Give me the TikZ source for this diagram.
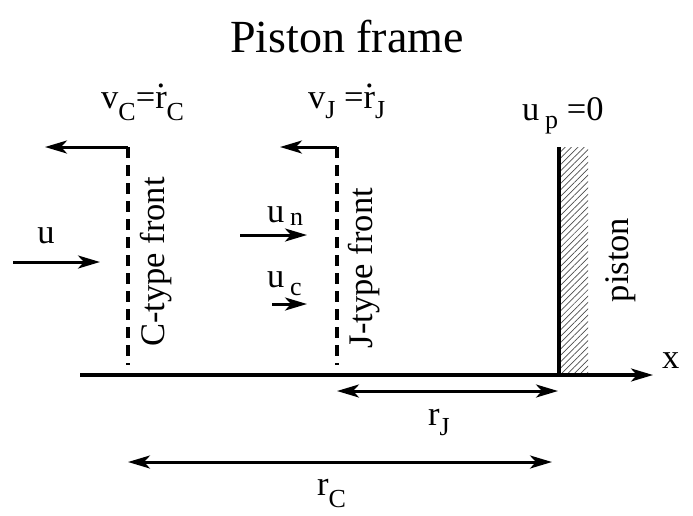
\documentclass[tikz,border=0pt]{standalone}
\usepackage{fontspec}
\setmainfont{Liberation Serif}
\usetikzlibrary{arrows.meta,patterns.meta}
\newcommand\sbs[2][6pt]{\raisebox{-#1}{\fontsize{26}{26}\selectfont #2}}
\newcommand\rdot{\ooalign{r\cr\hidewidth\smash{\raisebox{0.6em}{.}}\hidewidth\cr}}
\begin{document}
\begin{tikzpicture}[x=1pt,y=-1pt,
  lbl/.style={inner sep=0pt,font=\fontsize{34.5}{40}\selectfont},
  arr/.style={line width=3pt,-{Stealth[length=22pt,width=13pt,inset=6pt]}},
  darr/.style={line width=3pt,{Stealth[length=22pt,width=13pt,inset=6pt]}-{Stealth[length=22pt,width=13pt,inset=6pt]}},
  front/.style={line width=3.2pt,dash pattern=on 11pt off 7pt}]
\useasboundingbox (0,0) rectangle (693,515);
% title
\node[lbl,font=\fontsize{46}{50}\selectfont,anchor=base] (title) at (347,52) {Piston frame};
% coordinates
\coordinate (ax0) at (80,375);
\coordinate (ax1) at (653,375);
\coordinate (ptop) at (559,147);
\coordinate (pbot) at (559,375);
\coordinate (ctop) at (128,147);
\coordinate (cbot) at (128,365);
\coordinate (cv) at (45,147);
\coordinate (jtop) at (337,147);
\coordinate (jbot) at (337,365);
\coordinate (jv) at (280,147);
\coordinate (u0) at (13,262);
\coordinate (u1) at (100,262);
\coordinate (un0) at (240,235);
\coordinate (un1) at (307,235);
\coordinate (uc0) at (272,304);
\coordinate (uc1) at (307,304);
\coordinate (rj0) at (337,391);
\coordinate (rj1) at (558,391);
\coordinate (rc0) at (128,462);
\coordinate (rc1) at (552,462);
% piston hatch
\fill[pattern={Lines[angle=45,distance=4.5pt,line width=0.7pt]},pattern color=black!70] (559,147) rectangle (588,375);
% axis and piston
\draw[line width=3.2pt,-{Stealth[length=22pt,width=13pt,inset=6pt]}] (ax0) -- (ax1);
\draw[line width=3.4pt] (ptop) -- (pbot);
% fronts
\draw[front] (ctop) -- (cbot);
\draw[front] (jtop) -- (jbot);
\draw[arr] (ctop) -- (cv);
\draw[arr] (jtop) -- (jv);
% velocities
\draw[arr] (u0) -- (u1);
\draw[arr] (un0) -- (un1);
\draw[arr] (uc0) -- (uc1);
% distances
\draw[darr] (rj0) -- (rj1);
\draw[darr] (rc0) -- (rc1);
% labels
\node[lbl,anchor=base west] (vc) at (101,108) {v\sbs[12pt]{C}=\rdot\sbs[12pt]{C}};
\node[lbl,anchor=base west] (vj) at (308,108) {v\sbs[10pt]{J} =\rdot\sbs[10pt]{J}};
\node[lbl,anchor=base west] (up) at (522,120) {u\,\sbs[8pt]{p} =0};
\node[lbl,anchor=base] (ul) at (46,243) {u};
\node[lbl,anchor=base west] (unl) at (267,222) {u\,\sbs[3pt]{n}};
\node[lbl,anchor=base west] (ucl) at (267,287) {u\,\sbs[8pt]{c}};
\node[lbl,rotate=90] (cl) at (156,262) {C-type front};
\node[lbl,rotate=90] (jl) at (364,268) {J-type front};
\node[lbl,rotate=90] (pl) at (621,260) {piston};
\node[lbl,anchor=base west] (xl) at (662,368) {x};
\node[lbl,anchor=base west] (rjl) at (428,425) {r\sbs[10pt]{J}};
\node[lbl,anchor=base west] (rcl) at (317,495) {r\sbs[12pt]{C}};
\end{tikzpicture}
\end{document}
